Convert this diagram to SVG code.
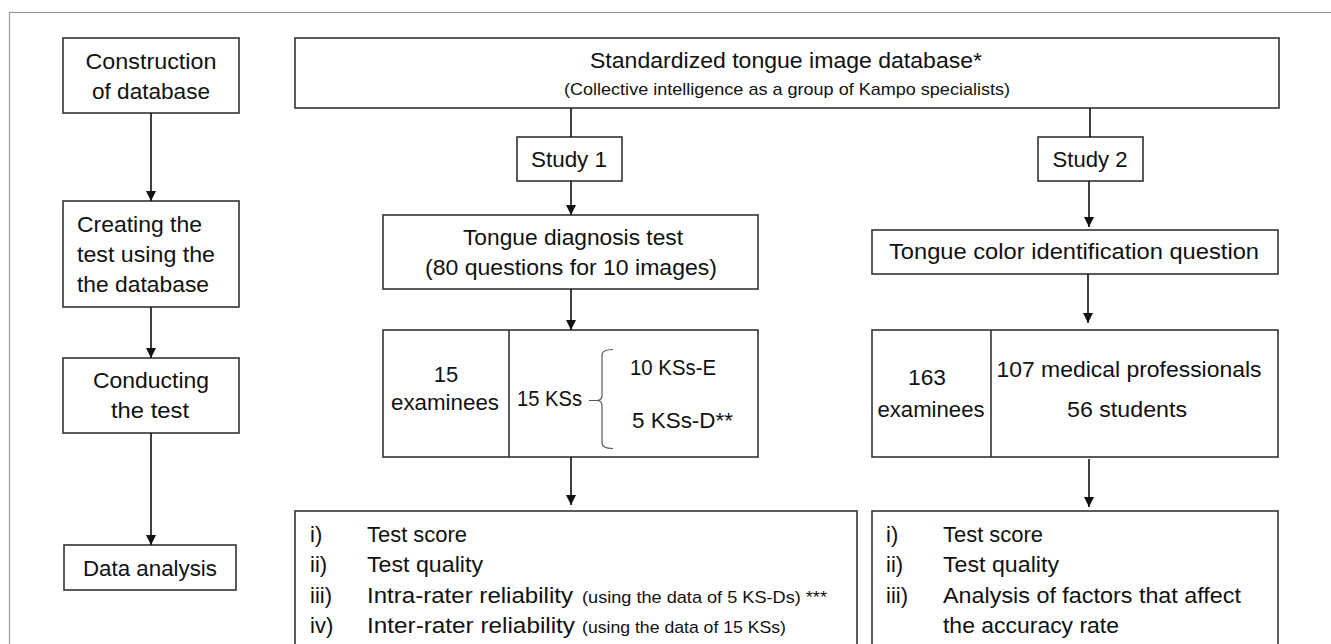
<svg xmlns="http://www.w3.org/2000/svg" width="1331" height="644" viewBox="0 0 1331 644">
<defs>
<marker id="ah" viewBox="0 0 10 10" refX="10" refY="5" markerWidth="10" markerHeight="10" markerUnits="userSpaceOnUse" orient="auto">
<path d="M0,0 L10,5 L0,10 z" fill="#111"/>
</marker>
<style>
.box{fill:#fff;stroke:#333;stroke-width:1.6}
.t{font-family:"Liberation Sans",Arial,sans-serif;font-size:22px;fill:#111}
.s{font-family:"Liberation Sans",Arial,sans-serif;font-size:17px;fill:#111}
.m{text-anchor:middle}
.c{stroke:#111;stroke-width:1.6;fill:none}
</style>
</defs>
<rect x="0" y="0" width="1331" height="644" fill="#fff"/>
<rect x="9.5" y="12.5" width="1340" height="660" fill="none" stroke="#999" stroke-width="1.2"/>

<g id="n-construction">
<rect class="box" x="63" y="38" width="176" height="75"/>
<text class="t m" x="151" y="69" textLength="131" lengthAdjust="spacingAndGlyphs">Construction</text>
<text class="t m" x="151" y="99" textLength="118" lengthAdjust="spacingAndGlyphs">of database</text>
</g>
<g id="n-creating">
<rect class="box" x="63" y="201" width="176" height="106"/>
<text class="t" x="77" y="232" textLength="125" lengthAdjust="spacingAndGlyphs">Creating the</text>
<text class="t" x="77" y="262" textLength="138" lengthAdjust="spacingAndGlyphs">test using the</text>
<text class="t" x="77" y="292" textLength="132" lengthAdjust="spacingAndGlyphs">the database</text>
</g>
<g id="n-conducting">
<rect class="box" x="63" y="358" width="176" height="75"/>
<text class="t m" x="151" y="388" textLength="116" lengthAdjust="spacingAndGlyphs">Conducting</text>
<text class="t m" x="150" y="418" textLength="78" lengthAdjust="spacingAndGlyphs">the test</text>
</g>
<g id="n-analysis">
<rect class="box" x="64" y="545" width="172" height="45"/>
<text class="t m" x="150" y="576" textLength="134" lengthAdjust="spacingAndGlyphs">Data analysis</text>
</g>

<g id="n-database">
<rect class="box" x="295" y="38" width="984" height="70"/>
<text class="t m" x="786" y="68" textLength="392" lengthAdjust="spacingAndGlyphs">Standardized tongue image database*</text>
<text class="s m" x="787" y="95" textLength="446" lengthAdjust="spacingAndGlyphs">(Collective intelligence as a group of Kampo specialists)</text>
</g>

<g id="n-study1">
<rect class="box" x="517" y="137" width="105" height="44"/>
<text class="t m" x="569" y="167" textLength="76" lengthAdjust="spacingAndGlyphs">Study 1</text>
</g>
<g id="n-tonguetest">
<rect class="box" x="383" y="215" width="375" height="74"/>
<text class="t m" x="573" y="245" textLength="220" lengthAdjust="spacingAndGlyphs">Tongue diagnosis test</text>
<text class="t m" x="571" y="275" textLength="292" lengthAdjust="spacingAndGlyphs">(80 questions for 10 images)</text>
</g>
<g id="n-examinees1">
<rect class="box" x="383" y="330" width="375" height="127"/>
<line x1="509" y1="330" x2="509" y2="457" stroke="#333" stroke-width="1.6"/>
<text class="t m" x="446" y="382">15</text>
<text class="t m" x="445" y="410" textLength="108" lengthAdjust="spacingAndGlyphs">examinees</text>
<text class="t" x="517" y="406" textLength="65" lengthAdjust="spacingAndGlyphs">15 KSs</text>
<path d="M589,400.5 L597,400.5 Q602,400.5 602,395 L602,355 Q602,349.5 613,349.5 M597,400.5 Q602,400.5 602,406 L602,443 Q602,448.5 613,448.5" fill="none" stroke="#555" stroke-width="1.2"/>
<text class="t" x="630" y="375" textLength="86" lengthAdjust="spacingAndGlyphs">10 KSs-E</text>
<text class="t" x="632" y="428" textLength="101" lengthAdjust="spacingAndGlyphs">5 KSs-D**</text>
</g>
<g id="n-results1">
<rect class="box" x="295" y="511" width="562" height="160"/>
<text class="t" x="310" y="542">i)</text>
<text class="t" x="367" y="542" textLength="100" lengthAdjust="spacingAndGlyphs">Test score</text>
<text class="t" x="310" y="572">ii)</text>
<text class="t" x="367" y="572" textLength="116" lengthAdjust="spacingAndGlyphs">Test quality</text>
<text class="t" x="310" y="603">iii)</text>
<text class="t" x="367" y="603" textLength="206" lengthAdjust="spacingAndGlyphs">Intra-rater reliability</text>
<text class="s" x="582" y="603" textLength="245" lengthAdjust="spacingAndGlyphs">(using the data of 5 KS-Ds) ***</text>
<text class="t" x="310" y="633">iv)</text>
<text class="t" x="367" y="633" textLength="208" lengthAdjust="spacingAndGlyphs">Inter-rater reliability</text>
<text class="s" x="582" y="633" textLength="204" lengthAdjust="spacingAndGlyphs">(using the data of 15 KSs)</text>
</g>

<g id="n-study2">
<rect class="box" x="1038" y="137" width="105" height="44"/>
<text class="t m" x="1090" y="167" textLength="75" lengthAdjust="spacingAndGlyphs">Study 2</text>
</g>
<g id="n-colorq">
<rect class="box" x="872" y="230" width="406" height="44"/>
<text class="t m" x="1074" y="259" textLength="370" lengthAdjust="spacingAndGlyphs">Tongue color identification question</text>
</g>
<g id="n-examinees2">
<rect class="box" x="872" y="330" width="406" height="127"/>
<line x1="991" y1="330" x2="991" y2="457" stroke="#333" stroke-width="1.6"/>
<text class="t m" x="927" y="385" textLength="38" lengthAdjust="spacingAndGlyphs">163</text>
<text class="t m" x="931" y="417" textLength="107" lengthAdjust="spacingAndGlyphs">examinees</text>
<text class="t m" x="1129" y="377" textLength="265" lengthAdjust="spacingAndGlyphs">107 medical professionals</text>
<text class="t m" x="1127" y="417" textLength="120" lengthAdjust="spacingAndGlyphs">56 students</text>
</g>
<g id="n-results2">
<rect class="box" x="872" y="511" width="406" height="160"/>
<text class="t" x="886" y="542">i)</text>
<text class="t" x="943" y="542" textLength="100" lengthAdjust="spacingAndGlyphs">Test score</text>
<text class="t" x="886" y="572">ii)</text>
<text class="t" x="943" y="572" textLength="116" lengthAdjust="spacingAndGlyphs">Test quality</text>
<text class="t" x="886" y="603">iii)</text>
<text class="t" x="943" y="603" textLength="298" lengthAdjust="spacingAndGlyphs">Analysis of factors that affect</text>
<text class="t" x="943" y="633" textLength="176" lengthAdjust="spacingAndGlyphs">the accuracy rate</text>
</g>

<g id="connectors">
<line class="c" x1="151" y1="113" x2="151" y2="201" marker-end="url(#ah)"/>
<line class="c" x1="151" y1="307" x2="151" y2="358" marker-end="url(#ah)"/>
<line class="c" x1="151" y1="433" x2="151" y2="545" marker-end="url(#ah)"/>
<line class="c" x1="571" y1="108" x2="571" y2="137"/>
<line class="c" x1="571" y1="181" x2="571" y2="215" marker-end="url(#ah)"/>
<line class="c" x1="571" y1="289" x2="571" y2="330" marker-end="url(#ah)"/>
<line class="c" x1="571" y1="457" x2="571" y2="505" marker-end="url(#ah)"/>
<line class="c" x1="1090" y1="108" x2="1090" y2="137"/>
<line class="c" x1="1089" y1="181" x2="1089" y2="227" marker-end="url(#ah)"/>
<line class="c" x1="1088" y1="274" x2="1088" y2="323" marker-end="url(#ah)"/>
<line class="c" x1="1089" y1="459" x2="1089" y2="507" marker-end="url(#ah)"/>
</g>
</svg>
